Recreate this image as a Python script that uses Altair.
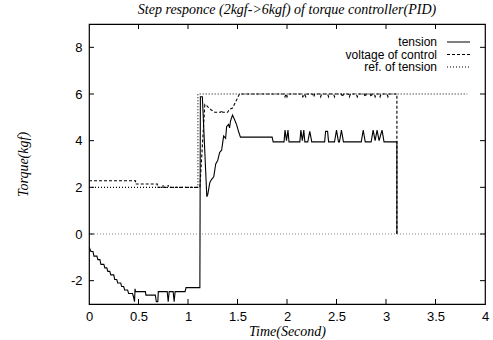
import altair as alt
import pandas as pd

# ---- data ----
series_names = ["tension", "voltage of control", "ref. of tension"]

tension_t = [0.00, 0.02, 0.04, 0.05, 0.08, 0.09, 0.11, 0.12, 0.15, 0.16, 0.18, 0.19, 0.21,
             0.22, 0.25, 0.26, 0.28, 0.29, 0.32, 0.33, 0.35, 0.36, 0.39, 0.40, 0.44, 0.45,
             0.46, 0.465, 0.47, 0.57, 0.575, 0.67, 0.68, 0.695, 0.70, 0.79, 0.80, 0.81, 0.85,
             0.86, 0.87, 0.97, 0.98, 1.12,
             1.125, 1.145, 1.19, 1.20, 1.22, 1.24, 1.26, 1.28, 1.30, 1.32, 1.34, 1.36, 1.38,
             1.39, 1.41, 1.42, 1.43, 1.45, 1.47, 1.49, 1.51, 1.53, 1.85, 1.86,
             1.97, 1.98, 1.995, 2.01, 2.02, 2.13, 2.14, 2.155, 2.17, 2.18, 2.21, 2.23, 2.25,
             2.38, 2.39, 2.41, 2.42, 2.48, 2.50, 2.52, 2.53, 2.55, 2.57, 2.75, 2.77, 2.79,
             2.85, 2.87, 2.89, 2.91, 2.93, 2.96, 2.98, 3.11, 3.11]
tension_v = [-0.55, -0.75, -0.75, -0.95, -0.95, -1.10, -1.10, -1.30, -1.30, -1.45, -1.45, -1.60, -1.60,
             -1.75, -1.75, -1.95, -1.95, -2.10, -2.10, -2.25, -2.25, -2.40, -2.40, -2.55, -2.55, -2.70,
             -2.90, -2.35, -2.47, -2.47, -2.62, -2.62, -2.90, -2.90, -2.47, -2.47, -2.90, -2.47, -2.47,
             -2.90, -2.47, -2.47, -2.30, -2.30,
             5.88, 5.88, 1.60, 1.70, 2.20, 2.35, 2.45, 3.00, 3.15, 3.50, 3.60, 4.20, 4.10,
             4.60, 4.70, 4.55, 4.85, 5.10, 4.90, 4.70, 4.40, 4.15, 4.15, 3.95,
             3.95, 4.45, 4.00, 4.45, 3.95, 3.95, 4.45, 4.00, 4.45, 3.95, 3.95, 4.40, 3.95,
             3.95, 4.40, 4.40, 3.95, 3.95, 4.45, 3.95, 3.95, 4.45, 3.95, 3.95, 4.45, 3.95,
             3.95, 4.45, 4.00, 4.45, 4.00, 4.45, 3.95, 3.95, 0.00]

voltage_t = [0.00, 0.47, 0.47, 0.69, 0.69, 0.745, 0.75, 0.755, 0.795, 0.80, 0.805, 1.12,
             1.17, 1.19, 1.21, 1.24, 1.27, 1.33, 1.34, 1.35, 1.40, 1.42, 1.45, 1.48, 1.52,
             1.97, 1.98, 1.99, 2.00, 2.01, 2.15, 2.16, 2.175, 2.19, 2.20,
             2.26, 2.27, 2.28, 2.33, 2.34, 2.35, 2.41, 2.42, 2.43, 2.47, 2.48, 2.49,
             2.55, 2.56, 2.57, 2.62, 2.63, 2.64, 2.70, 2.71, 2.72, 2.78, 2.79, 2.80,
             2.84, 2.85, 2.86, 2.88, 2.89, 2.90, 2.93, 2.94, 2.95, 3.01, 3.02, 3.03,
             3.11, 3.11]
voltage_v = [2.28, 2.28, 2.14, 2.14, 2.00, 2.00, 2.10, 2.00, 2.00, 2.10, 2.00, 2.00,
             5.55, 5.50, 5.40, 5.30, 5.22, 5.22, 5.30, 5.22, 5.22, 5.35, 5.40, 5.65, 6.00,
             6.00, 5.88, 6.00, 5.88, 6.00, 6.00, 5.88, 6.00, 5.88, 6.00,
             6.00, 5.88, 6.00, 6.00, 5.88, 6.00, 6.00, 5.88, 6.00, 6.00, 5.88, 6.00,
             6.00, 5.88, 6.00, 6.00, 5.88, 6.00, 6.00, 5.88, 6.00, 6.00, 5.88, 6.00,
             6.00, 5.88, 6.00, 6.00, 5.88, 6.00, 6.00, 5.88, 6.00, 6.00, 5.88, 6.00,
             6.00, 0.00]

ref_t = [0.00, 1.10, 1.10, 3.82]
ref_v = [2.0, 2.0, 6.0, 6.0]

x_label_values = [0, 0.5, 1, 1.5, 2, 2.5, 3, 3.5, 4]
x_tick_values = [0.5, 1, 1.5, 2, 2.5, 3, 3.5]
y_values = [-2, 0, 2, 4, 6, 8]
zero_line = [0]

assert len(tension_t) == len(tension_v)
assert len(voltage_t) == len(voltage_v)

# ---- build table ----
rows = []
for name, ts, vs in [(series_names[0], tension_t, tension_v),
                     (series_names[1], voltage_t, voltage_v),
                     (series_names[2], ref_t, ref_v)]:
    for i, (t, v) in enumerate(zip(ts, vs)):
        rows.append({"t": t, "v": v, "series": name, "i": i})
df = pd.DataFrame(rows)

W, H = 396, 280
dashes = [[1, 0], [3, 2], [1, 2]]
SERIF = "Liberation Serif"
SANS = "Liberation Sans"

xscale = alt.Scale(domain=[0, 4], nice=False, zero=False)
yscale = alt.Scale(domain=[-3, 9], nice=False, zero=False)

xaxis = alt.Axis(values=x_label_values, ticks=False, tickSize=0, domain=False, grid=False,
                 labelExpr="datum.value + ''", labelFont=SANS, labelFontSize=13,
                 labelColor="black", labelPadding=6, labelFlush=False,
                 title="Time(Second)", titleFont=SERIF, titleFontStyle="italic",
                 titleFontWeight="normal", titleFontSize=14, titleColor="black",
                 titleBaseline="middle", titleY=27)
yaxis = alt.Axis(values=y_values, ticks=False, tickSize=0, domain=False, grid=False,
                 labelExpr="datum.value + ''", labelFont=SANS, labelFontSize=13,
                 labelColor="black", labelPadding=7,
                 title="Torque(kgf)", titleFont=SERIF, titleFontStyle="italic",
                 titleFontWeight="normal", titleFontSize=14, titleColor="black",
                 titleBaseline="middle", titleX=-66)


def X(field="t"):
    return alt.X(f"{field}:Q", scale=xscale, axis=xaxis)


def Y(field="v"):
    return alt.Y(f"{field}:Q", scale=yscale, axis=yaxis)


lines = alt.Chart(df).mark_line(color="black", strokeWidth=1.1, clip=True).encode(
    x=X(), y=Y(),
    detail="series:N",
    strokeDash=alt.StrokeDash("series:N", scale=alt.Scale(domain=series_names, range=dashes),
                              legend=None),
    order="i:Q",
)

zero = alt.Chart(pd.DataFrame({"v": zero_line})).mark_rule(
    color="#666666", strokeWidth=0.8, strokeDash=[1, 2]).encode(y=Y())

xt = pd.DataFrame({"t": x_tick_values})
yt = pd.DataFrame({"v": y_values})
tick_bottom = alt.Chart(xt).mark_rule(color="black").encode(
    x=X(), y=alt.value(H), y2=alt.value(H - 5))
tick_top = alt.Chart(xt).mark_rule(color="black").encode(
    x=X(), y=alt.value(0), y2=alt.value(5))
tick_left = alt.Chart(yt).mark_rule(color="black").encode(
    y=Y(), x=alt.value(0), x2=alt.value(5))
tick_right = alt.Chart(yt).mark_rule(color="black").encode(
    y=Y(), x=alt.value(W), x2=alt.value(W - 5))

legend_layers = []
legend_y = [18, 30.5, 43]
for k, name in enumerate(series_names):
    ld = pd.DataFrame({"series": [name]})
    legend_layers.append(
        alt.Chart(ld).mark_text(align="right", baseline="middle", font=SANS, fontSize=12,
                                color="black").encode(
            text="series:N", x=alt.value(348), y=alt.value(legend_y[k])))
    legend_layers.append(
        alt.Chart(ld).mark_rule(color="black", strokeWidth=1, strokeDash=dashes[k]).encode(
            x=alt.value(358), x2=alt.value(381), y=alt.value(legend_y[k])))

chart = alt.layer(lines, zero, tick_bottom, tick_top, tick_left, tick_right,
                  *legend_layers).properties(
    width=W, height=H,
    autosize="none",
    padding={"left": 89, "top": 24, "right": 8, "bottom": 36},
    title=alt.TitleParams("Step responce (2kgf->6kgf) of torque controller(PID)",
                          font=SERIF, fontStyle="italic", fontWeight="normal", fontSize=14,
                          color="black", anchor="middle", offset=7),
    background="white",
).configure_view(stroke="black", strokeWidth=1.2)

chart.save("out.html", embed_options={"renderer": "svg", "actions": False})
